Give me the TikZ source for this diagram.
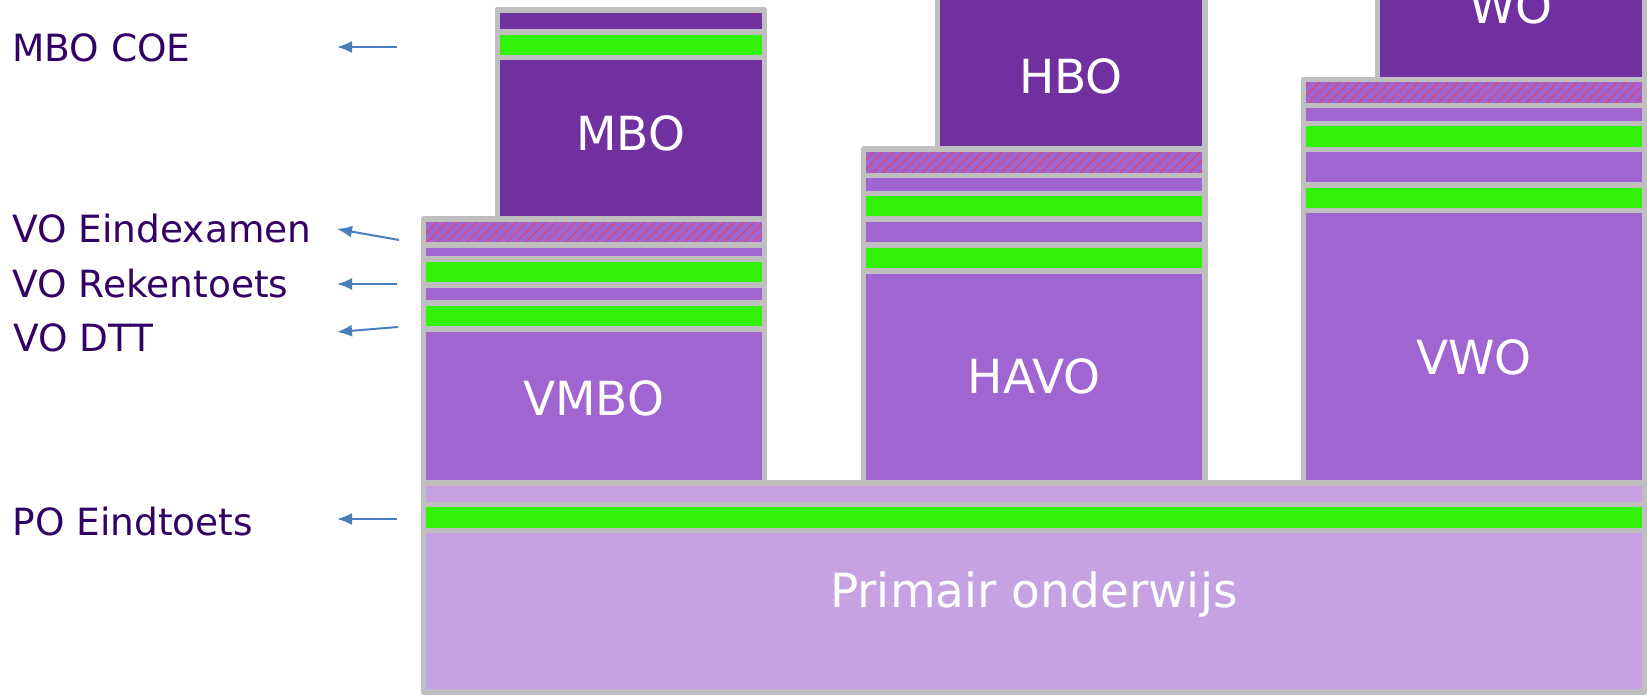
\documentclass[tikz,border=0pt]{standalone}
\usepackage{fontspec}
\setmainfont{DejaVu Sans}
\usetikzlibrary{arrows.meta,patterns.meta}
\definecolor{darkp}{HTML}{7030A0}
\definecolor{midp}{HTML}{A165D1}
\definecolor{lightp}{HTML}{C6A2E3}
\definecolor{grn}{HTML}{31F207}
\definecolor{bord}{HTML}{BFBFBF}
\definecolor{arr}{HTML}{4A7EBB}
\definecolor{lbl}{HTML}{330066}
\definecolor{hatchred}{HTML}{E8405A}
\tikzset{
  strip/.style={draw=bord, line width=2.75pt, line join=round},
  sdark/.style={strip, fill=darkp},
  smid/.style={strip, fill=midp},
  slight/.style={strip, fill=lightp},
  sgreen/.style={strip, fill=grn},
  shatch/.style={strip, preaction={fill=midp}, pattern={Lines[angle=45,distance=3.5pt,line width=0.45pt]}, pattern color=hatchred},
  boxtext/.style={text=white, font=\fontsize{23.5}{28}\selectfont, inner sep=0pt, anchor=base},
  sidelabel/.style={text=lbl, font=\fontsize{18.75}{22}\selectfont, inner sep=0pt, anchor=base west},
  pointer/.style={draw=arr, line width=1pt, -{Latex[length=7.5pt,width=6pt]}}
}
\begin{document}
\begin{tikzpicture}[x=0.5pt, y=-0.5pt]
\useasboundingbox (0,0) rectangle (1652,699);
\clip (0,0) rectangle (1652,699);
\fill[white] (0,0) rectangle (1652,699);
% Primair onderwijs
\draw[slight] (423.3,482.8) rectangle (1644.3,504.7);
\draw[sgreen] (423.3,504.7) rectangle (1644.3,530.5);
\draw[slight] (423.3,530.5) rectangle (1644.3,691.8);
% MBO
\draw[sdark] (497.3,9.8) rectangle (764.3,31.8);
\draw[sgreen] (497.3,31.8) rectangle (764.3,57.7);
\draw[sdark] (497.3,57.7) rectangle (764.3,219.2);
% VMBO
\draw[shatch] (423.3,219.2) rectangle (764.3,245);
\draw[smid] (423.3,245) rectangle (764.3,258.8);
\draw[sgreen] (423.3,258.8) rectangle (764.3,284.8);
\draw[smid] (423.3,284.8) rectangle (764.3,302.8);
\draw[sgreen] (423.3,302.8) rectangle (764.3,328.8);
\draw[smid] (423.3,328.8) rectangle (764.3,482.8);
% HBO
\draw[sdark] (937.5,-20) rectangle (1204.8,149.2);
% HAVO
\draw[shatch] (863.5,149.2) rectangle (1204.8,175.5);
\draw[smid] (863.5,175.5) rectangle (1204.8,193.3);
\draw[sgreen] (863.5,193.3) rectangle (1204.8,218.8);
\draw[smid] (863.5,218.8) rectangle (1204.8,245);
\draw[sgreen] (863.5,245) rectangle (1204.8,271.2);
\draw[smid] (863.5,271.2) rectangle (1204.8,482.8);
% WO
\draw[sdark] (1377.3,-20) rectangle (1644.3,79.7);
% VWO
\draw[shatch] (1303.3,79.7) rectangle (1644.3,105.5);
\draw[smid] (1303.3,105.5) rectangle (1644.3,123.3);
\draw[sgreen] (1303.3,123.3) rectangle (1644.3,149.3);
\draw[smid] (1303.3,149.3) rectangle (1644.3,185);
\draw[sgreen] (1303.3,185) rectangle (1644.3,210.7);
\draw[smid] (1303.3,210.7) rectangle (1644.3,482.8);
% box texts
\node[boxtext] (mbo) at (630.8,151) {MBO};
\node[boxtext] (hbo) at (1071,93.3) {HBO};
\node[boxtext] (wo) at (1510.8,23.3) {WO};
\node[boxtext] (vmbo) at (593.8,415.7) {VMBO};
\node[boxtext] (havo) at (1034.2,393.3) {HAVO};
\node[boxtext] (vwo) at (1473.8,375) {VWO};
\node[boxtext] (po) at (1033.8,607) {Primair onderwijs};
% side labels
\node[sidelabel] (lmbo) at (12,62) {MBO COE};
\node[sidelabel] (lexam) at (12,243) {VO Eindexamen};
\node[sidelabel] (lrek) at (12,298) {VO Rekentoets};
\node[sidelabel] (ldtt) at (13,352) {VO DTT};
\node[sidelabel] (lpo) at (12,535.7) {PO Eindtoets};
% arrows
\coordinate (a1s) at (397,47);  \coordinate (a1t) at (337,47);
\coordinate (a2s) at (399,240); \coordinate (a2t) at (337,229);
\coordinate (a3s) at (397,284); \coordinate (a3t) at (337,284);
\coordinate (a4s) at (398,327); \coordinate (a4t) at (337,332);
\coordinate (a5s) at (397,519); \coordinate (a5t) at (337,519);
\draw[pointer] (a1s) -- (a1t);
\draw[pointer] (a2s) -- (a2t);
\draw[pointer] (a3s) -- (a3t);
\draw[pointer] (a4s) -- (a4t);
\draw[pointer] (a5s) -- (a5t);
\end{tikzpicture}
\end{document}
